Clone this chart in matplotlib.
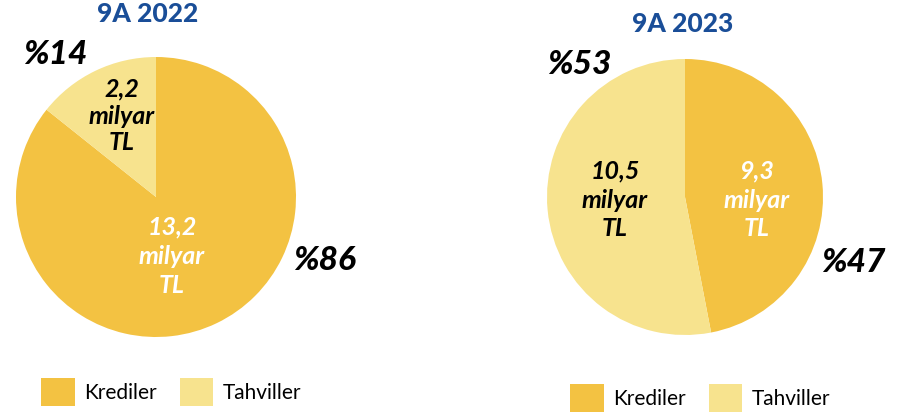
import matplotlib
matplotlib.use("Agg")
import matplotlib.pyplot as plt

categories = ["Krediler", "Tahviller"]
values_2022 = [13.2, 2.2]
values_2023 = [9.3, 10.5]
pct_2022 = ["%86", "%14"]
pct_2023 = ["%47", "%53"]
amount_2022 = ["13,2", "2,2"]
amount_2023 = ["9,3", "10,5"]
titles = ["9A 2022", "9A 2023"]

colors = ["#F3C242", "#F7E38E"]
title_color = "#1A4E98"
FONT = ["Lato", "DejaVu Sans"]

W, H = 902, 415
fig = plt.figure(figsize=(W / 100, H / 100), dpi=100)


def fx(px):
    return px / W


def fy(py):
    return 1 - py / H


def make_pie(cx, cy, r, values):
    ax = fig.add_axes([fx(cx - r), fy(cy + r), 2 * r / W, 2 * r / H])
    wedges, _ = ax.pie(values, colors=colors, startangle=90, counterclock=False,
                       radius=1, wedgeprops=dict(linewidth=0))
    ax.set_xlim(-1, 1)
    ax.set_ylim(-1, 1)
    ax.set_aspect("auto")
    ax.axis("off")
    return ax, wedges


ax1, w1 = make_pie(156, 197, 140, values_2022)
ax2, w2 = make_pie(685, 197, 138, values_2023)

# titles
fig.text(fx(148), fy(14), titles[0], ha="center", va="center", fontsize=19,
         fontweight=900, color=title_color, family=FONT)
fig.text(fx(683), fy(24), titles[1], ha="center", va="center", fontsize=19,
         fontweight=900, color=title_color, family=FONT)

pct_kw = dict(ha="center", va="center", fontsize=24, fontweight=900,
              fontstyle="italic", color="black", family=FONT)
fig.text(fx(324), fy(260), pct_2022[0], **pct_kw)
fig.text(fx(55), fy(55), pct_2022[1], **pct_kw)
fig.text(fx(853), fy(262), pct_2023[0], **pct_kw)
fig.text(fx(579), fy(64), pct_2023[1], **pct_kw)

in_kw = dict(ha="center", va="center", fontweight="bold", fontstyle="italic",
             family=FONT, fontsize=18)
fig.text(fx(172), fy(256), amount_2022[0] + "\nmilyar\nTL",
         color="white", linespacing=1.32, **in_kw)
fig.text(fx(122), fy(116), amount_2022[1] + "\nmilyar\nTL",
         color="black", linespacing=1.2, **in_kw)
fig.text(fx(757), fy(200), amount_2023[0] + "\nmilyar\nTL",
         color="white", linespacing=1.3, **in_kw)
fig.text(fx(615), fy(200), amount_2023[1] + "\nmilyar\nTL",
         color="black", linespacing=1.3, **in_kw)

leg_kw = dict(ncol=2, frameon=False, handlelength=1.6,
              handleheight=1.75, handletextpad=0.45, columnspacing=1.1,
              borderaxespad=0, prop={"family": FONT, "size": 15})
fig.legend(w1, categories, loc="center left",
           bbox_to_anchor=(fx(33), fy(392)), **leg_kw)
fig.legend(w2, categories, loc="center left",
           bbox_to_anchor=(fx(562), fy(398)), **leg_kw)

fig.savefig("out.png", dpi=100)
